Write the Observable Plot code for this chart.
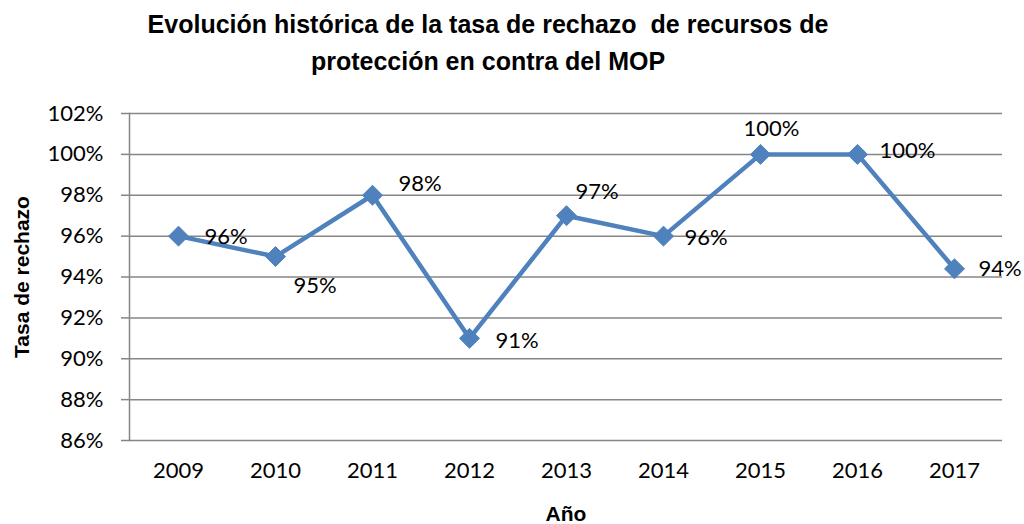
<!DOCTYPE html>
<html>
<head>
<meta charset="utf-8">
<script src="https://cdn.jsdelivr.net/npm/d3@7"></script>
<script src="https://cdn.jsdelivr.net/npm/@observablehq/plot@0.6"></script>
<style>
  html, body { margin: 0; padding: 0; background: #fff; }
  #wrap { width: 1024px; height: 524px; position: relative; overflow: hidden; }
  #title {
    position: absolute; left: 0; top: 6px; width: 976px; text-align: center;
    font-family: "Liberation Sans Narrow", "Arial Narrow", "Liberation Sans", Arial, sans-serif;
    font-weight: bold; font-size: 25px; line-height: 37px; color: #000;
  }
  #chart { position: absolute; left: 0; top: 90px; }
</style>
</head>
<body>
<div id="wrap">
  <div id="title">Evolución histórica de la tasa de rechazo&nbsp; de recursos de<br>protección en contra del MOP</div>
  <div id="chart"></div>
</div>
<script>
const years = ["2009","2010","2011","2012","2013","2014","2015","2016","2017"];
const rates = [0.96, 0.95, 0.98, 0.91, 0.97, 0.96, 1.00, 1.00, 0.944];
const rateLabels = ["96%","95%","98%","91%","97%","96%","100%","100%","94%"];
const yTicks = [0.86, 0.88, 0.90, 0.92, 0.94, 0.96, 0.98, 1.00, 1.02];

// label placement (layout only)
const labelDx = [26, 18, 26, 26, 9, 21, -17, 22, 24];
const labelDy = [1, 29, -11, 3, -24, 2, -25, -3, 0];

const data = years.map((y, i) => ({year: y, rate: rates[i], label: rateLabels[i], dx: labelDx[i], dy: labelDy[i]}));

const blue = "#4F81BD";
const grid = "#868686";
const tickFont = "Lato, Carlito, Calibri, sans-serif";
const boldFont = "'Liberation Sans Narrow', 'Arial Narrow', 'Liberation Sans', Arial, sans-serif";

const labelMarks = data.map(d => Plot.text([d], {
  x: "year", y: "rate", text: "label", textAnchor: "start",
  dx: d.dx, dy: d.dy, fontSize: 22, fill: "#000", fontFamily: tickFont
}));

const chart = Plot.plot({
  width: 1024,
  height: 434,
  marginLeft: 129,
  marginRight: 22,
  marginTop: 23,
  marginBottom: 84,
  style: {fontFamily: tickFont, fontSize: "22px", color: "#000", background: "#fff"},
  x: {type: "point", domain: years, padding: 0.5, label: null},
  y: {domain: [0.86, 1.02], label: null},
  marks: [
    Plot.ruleY(yTicks, {stroke: grid, strokeWidth: 1.5}),
    Plot.frame({anchor: "left", stroke: grid, strokeWidth: 1.5}),
    Plot.axisY({ticks: yTicks, tickFormat: d3.format(".0%"), tickSize: 8, stroke: grid, strokeWidth: 1.5, tickPadding: 18, fontSize: 22, fill: "#000", label: null}),
    Plot.axisX({tickSize: 0, tickPadding: 22, fontSize: 22, fill: "#000", label: null}),
    Plot.text(["Año"], {frameAnchor: "bottom", dy: 80, fontFamily: boldFont, fontWeight: "bold", fontSize: 21, fill: "#000"}),
    Plot.text(["Tasa de rechazo"], {frameAnchor: "left", textAnchor: "middle", dx: -107, rotate: -90, fontFamily: boldFont, fontWeight: "bold", fontSize: 21, fill: "#000"}),
    Plot.line(data, {x: "year", y: "rate", stroke: blue, strokeWidth: 4.5, strokeLinejoin: "round"}),
    Plot.dot(data, {x: "year", y: "rate", symbol: "diamond2", r: 9, fill: blue, stroke: blue, strokeWidth: 1}),
    ...labelMarks
  ]
});
document.getElementById("chart").appendChild(chart);
</script>
</body>
</html>
